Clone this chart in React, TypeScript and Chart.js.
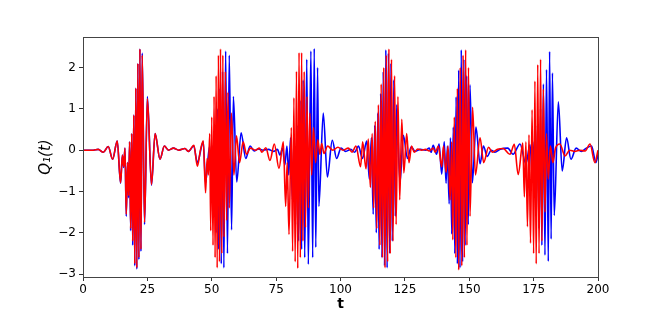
import React, { useEffect, useRef } from "react";
import { Chart, registerables } from "chart.js";

Chart.register(...registerables);

const xTicks = [0, 25, 50, 75, 100, 125, 150, 175, 200];
const yTicks = [-3, -2, -1, 0, 1, 2];

// Red series: [t, value] at turning points
const redPoints: number[][] = [
  [0, 0], [4, 0], [5.9, 0.02], [7.9, -0.05], [9.8, 0.09], [11.5, -0.22], [13.3, 0.22], [14.6, -0.79],
  [15.3, -0.12], [15.8, -0.4], [16.3, 0.05], [16.8, -1.55], [17.3, -0.3], [17.7, -1.1], [18.1, 0.2],
  [18.5, -1.9], [18.9, 0.4], [19.3, -2.2], [19.7, 0.85], [20.1, -2.75], [20.5, 1.5], [20.9, -2.85],
  [21.3, 2.1], [21.7, -2.6], [22.1, 2.45], [22.5, -2.4], [23.0, 2.3], [23.9, -1.75], [25.0, 1.25],
  [26.6, -0.83], [28.0, 0.4], [29.9, -0.22], [31.6, 0.1], [33.2, 0.0], [35.1, 0.05], [37.2, 0.0],
  [39.6, 0.04], [40.9, -0.03], [43.1, 0.12], [44.4, -0.39], [45.6, 0.0], [46.7, 0.23], [47.6, -1.03],
  [48.2, -0.2], [48.7, -0.6], [49.2, 0.4], [49.6, -1.95], [50.0, 0.8], [50.5, -2.3], [50.9, 1.3],
  [51.3, -2.6], [51.7, 1.8], [52.1, -2.85], [52.6, 2.3], [53.0, -2.7], [53.4, 2.45], [53.9, -2.5],
  [54.3, 2.3], [54.8, -2.1], [55.3, 1.9], [55.8, -1.7], [56.3, 1.4], [56.8, -1.4], [57.6, 0.9],
  [58.6, -0.6], [59.6, 0.35], [60.8, -0.3], [62.2, 0.2], [63.5, -0.1], [65.0, 0.05], [67.0, 0.0],
  [68.5, 0.05], [69.5, -0.05], [71.0, 0.06], [72.6, -0.25], [74.3, 0.15], [76.1, -0.44], [77.8, 0.2],
  [78.7, -1.36], [79.3, -0.3], [80.0, -2.04], [80.9, 0.55], [81.4, -2.45], [81.9, 1.27], [82.4, -2.7],
  [82.9, 1.91], [83.4, -2.86], [83.9, 2.36], [84.4, -2.6], [84.9, 2.36], [85.4, -2.2], [85.9, 1.9],
  [86.4, -1.87], [87.0, 1.3], [87.5, -1.4], [88.1, 0.9], [88.8, -0.6], [89.5, 0.55], [90.3, -0.3],
  [91.2, 0.25], [92.0, -0.1], [92.7, 0.16], [93.6, -0.08], [95.0, 0.1], [97.0, 0.0], [99.0, 0.07],
  [101.0, 0.0], [103.0, 0.05], [104.5, -0.05], [106.0, 0.1], [107.8, -0.4], [108.6, 0.2], [109.9, -0.45],
  [110.8, 0.27], [111.6, -0.9], [112.3, 0.4], [112.9, -1.4], [113.5, 0.7], [114.1, -1.9], [114.7, 1.1],
  [115.3, -2.3], [115.8, 1.6], [116.3, -2.6], [116.8, 2.0], [117.3, -2.85], [117.8, 2.3], [118.3, -2.7],
  [118.8, 2.45], [119.3, -2.5], [119.8, 2.2], [120.4, -2.2], [121.0, 1.8], [121.6, -1.8], [122.3, 1.3],
  [123.0, -1.2], [123.8, 0.75], [124.6, -0.55], [125.7, 0.4], [126.6, -0.3], [127.6, 0.1], [128.6, -0.05],
  [130.0, 0.03], [131.5, 0.0], [133.0, 0.02], [134.5, -0.02], [136.0, 0.05], [136.8, -0.05], [138.0, 0.1],
  [139.3, -0.4], [140.0, 0.1], [141.0, -0.54], [141.8, 0.1], [142.6, -1.2], [143.2, 0.2], [143.6, -2.17],
  [144.2, 0.8], [144.8, -2.6], [145.4, 1.5], [145.9, -2.9], [146.5, 2.0], [147.1, -2.8], [147.6, 2.3],
  [148.1, -2.6], [148.6, 2.43], [149.1, -2.3], [149.7, 2.0], [150.3, -1.6], [151.3, 1.04], [152.4, -0.6],
  [154.2, 0.3], [155.6, -0.3], [157.5, 0.07], [159.0, -0.05], [161.0, 0.02], [163.2, 0.04], [165.8, -0.1],
  [167.5, 0.14], [169.0, -0.59], [170.8, 0.17], [171.4, -1.13], [172.0, 0.2], [172.6, -1.85], [173.2, 0.37],
  [173.8, -2.25], [174.4, 0.98], [175.0, -2.5], [175.5, 1.67], [176.0, -2.75], [176.6, 2.07], [177.1, -2.5],
  [177.7, 2.2], [178.2, -2.2], [178.8, 1.48], [179.4, -1.5], [180.0, 0.4], [180.7, -0.7], [181.5, 0.1],
  [182.5, -0.3], [183.5, 0.05], [185.2, 0.15], [187.2, -0.14], [189.0, 0.0], [191.0, -0.03], [193.0, 0.0],
  [195.0, -0.02], [196.9, 0.15], [198.8, -0.3], [200, 0.0],
];

// Blue series: [t, value] at turning points
const bluePoints: number[][] = [
  [0, 0], [4, 0], [5.9, 0.02], [7.9, -0.05], [9.8, 0.09], [11.5, -0.22], [13.3, 0.22], [14.6, -0.8],
  [15.3, -0.12], [15.8, -0.42], [16.3, 0.05], [16.8, -1.6], [17.3, -0.3], [17.7, -1.15], [18.1, 0.2],
  [18.5, -1.95], [18.9, 0.4], [19.3, -2.3], [19.7, 0.85], [20.1, -2.8], [20.5, 1.5], [20.9, -2.88],
  [21.3, 2.1], [21.7, -2.65], [22.1, 2.45], [22.5, -2.45], [23.0, 2.35], [23.9, -1.8], [25.0, 1.3],
  [26.6, -0.85], [28.0, 0.4], [29.9, -0.22], [31.6, 0.1], [33.2, 0.0], [35.1, 0.05], [37.2, 0.0],
  [39.6, 0.04], [40.9, -0.03], [43.0, 0.1], [44.4, -0.3], [46.7, 0.2], [47.6, -0.8], [48.4, -0.3],
  [49.2, 0.1], [49.7, -0.6], [50.2, 0.1], [50.7, -1.5], [51.2, 0.5], [51.7, -2.0], [52.2, 1.0],
  [52.7, -2.4], [53.2, 1.5], [53.7, -2.75], [54.2, 1.9], [54.7, -2.85], [55.4, 2.4], [56.1, -2.5],
  [56.8, 2.3], [57.7, -1.93], [58.4, 1.3], [59.7, -0.77], [61.4, 0.42], [63.2, -0.2], [64.9, 0.1],
  [66.5, -0.02], [68.0, 0.03], [70.0, 0.0], [72.0, 0.02], [74.0, -0.03], [75.5, 0.02], [76.5, -0.12],
  [77.5, 0.05], [78.4, -0.36], [79.2, 0.1], [79.9, -0.6], [80.6, 0.3], [81.3, -1.2], [81.9, 0.2],
  [82.5, -1.8], [83.1, 0.6], [83.7, -2.2], [84.3, 1.2], [84.9, -2.4], [85.5, 1.7], [86.1, -2.6],
  [86.9, 2.2], [87.5, -2.76], [88.5, 2.4], [89.2, -2.6], [89.8, 2.46], [90.4, -2.35], [91.1, 2.0],
  [91.6, -1.36], [93.3, 0.9], [94.9, -0.65], [96.8, 0.24], [98.5, -0.2], [100.2, 0.05], [102.0, -0.03],
  [104.0, 0.02], [105.5, -0.05], [107.0, 0.1], [108.5, -0.2], [110.2, 0.22], [111.2, -0.7], [112.0, 0.3],
  [112.7, -1.55], [113.3, 0.6], [113.9, -2.0], [114.5, 0.9], [115.0, -2.4], [115.6, 1.37], [116.1, -2.6],
  [116.6, 1.9], [117.1, -2.8], [117.6, 2.43], [118.1, -2.85], [118.6, 2.35], [119.1, -2.5], [119.6, 2.1],
  [120.1, -2.2], [120.7, 1.7], [121.3, -1.6], [121.8, 1.1], [123.1, -0.8], [124.4, 0.36], [126.0, -0.2],
  [127.5, 0.08], [129.0, -0.03], [131.0, 0.02], [133.0, 0.0], [134.5, 0.05], [135.2, -0.05], [136.0, 0.12],
  [137.3, -0.1], [138.3, 0.15], [139.3, -0.58], [140.3, 0.2], [141.0, -0.8], [141.5, 0.1], [142.2, -1.3],
  [142.7, 0.3], [143.2, -2.03], [143.8, 0.56], [144.4, -2.5], [144.9, 1.29], [145.4, -2.75], [145.9, 1.94],
  [146.4, -2.85], [146.9, 2.43], [147.4, -2.7], [147.9, 2.2], [148.4, -2.3], [149.0, 1.8], [149.6, -1.8],
  [150.3, 1.58], [151.2, -0.79], [152.6, 0.56], [154.2, -0.33], [155.5, 0.1], [157.0, -0.15], [158.5, 0.0],
  [160.0, -0.05], [162.0, 0.02], [165.0, 0.05], [167.0, -0.1], [169.7, 0.15], [172.0, -0.33], [173.6, 0.13],
  [174.5, -0.6], [175.2, 0.2], [175.9, -1.4], [176.5, 0.6], [177.1, -1.9], [177.7, 1.0], [178.2, -2.3],
  [178.8, 1.6], [179.4, -2.54], [180.0, 1.95], [180.7, -2.69], [181.2, 2.39], [181.8, -2.15], [182.3, 1.87],
  [183.0, -1.58], [184.6, 1.17], [186.1, -0.5], [187.8, 0.3], [189.5, -0.22], [191.5, 0.05], [193.5, -0.03],
  [195.5, 0.05], [197.5, 0.1], [199.2, -0.3], [200, -0.1],
];

const toXY = (pts: number[][]) => pts.map(([x, y]) => ({ x, y }));

const framePlugin = {
  id: "frame",
  afterDraw(chart: any) {
    const { ctx, chartArea } = chart;
    ctx.save();
    ctx.strokeStyle = "#444";
    ctx.lineWidth = 1;
    ctx.strokeRect(
      Math.round(chartArea.left) + 0.5,
      Math.round(chartArea.top) + 0.5,
      Math.round(chartArea.right - chartArea.left),
      Math.round(chartArea.bottom - chartArea.top)
    );
    ctx.restore();
  },
};

export default function App() {
  const ref = useRef<HTMLCanvasElement | null>(null);
  useEffect(() => {
    document.body.style.margin = "0";
    const canvas = ref.current!;
    const chart = new Chart(canvas, {
      type: "line",
      data: {
        datasets: [
          {
            label: "red",
            data: toXY(redPoints),
            borderColor: "#ff0000",
            borderWidth: 1.6,
            pointRadius: 0,
            fill: false,
            cubicInterpolationMode: "monotone",
          },
          {
            label: "blue",
            data: toXY(bluePoints),
            borderColor: "#0000ff",
            borderWidth: 1.6,
            pointRadius: 0,
            fill: false,
            cubicInterpolationMode: "monotone",
          },
        ],
      },
      options: {
        animation: false,
        responsive: false,
        maintainAspectRatio: false,
        layout: { padding: { left: 0, top: 37, right: 66, bottom: 0 } },
        plugins: { legend: { display: false }, tooltip: { enabled: false } },
        scales: {
          x: {
            type: "linear",
            min: 0,
            max: 200,
            afterFit: (s: any) => { s.height = 36; },
            afterBuildTicks: (s: any) => { s.ticks = xTicks.map((v) => ({ value: v })); },
            grid: { display: true, drawOnChartArea: false, drawTicks: true, tickLength: 4, tickColor: "#333" },
            border: { display: false },
            ticks: { color: "#000", font: { family: "DejaVu Sans", size: 12 }, padding: 2, maxRotation: 0 },
            title: {
              display: true,
              text: "t",
              color: "#000",
              font: { family: "DejaVu Sans", size: 14, weight: "bold" },
              padding: { top: 0, bottom: 0 },
            },
          },
          y: {
            type: "linear",
            min: -3.07,
            max: 2.74,
            afterFit: (s: any) => { s.width = 83; },
            afterBuildTicks: (s: any) => { s.ticks = yTicks.map((v) => ({ value: v })); },
            grid: { display: true, drawOnChartArea: false, drawTicks: true, tickLength: 4, tickColor: "#333" },
            border: { display: false },
            ticks: {
              color: "#000",
              font: { family: "DejaVu Sans", size: 12 },
              padding: 3,
              callback: (v: any) => (Number(v) < 0 ? "\u2212" + Math.abs(Number(v)) : String(v)),
            },
            title: {
              display: true,
              text: "Q\u2081(t)",
              color: "#000",
              font: { family: "DejaVu Sans", size: 15, style: "italic" },
              padding: { top: 37, bottom: 0 },
            },
          },
        },
      },
      plugins: [framePlugin],
    });
    return () => chart.destroy();
  }, []);
  return <canvas ref={ref} width={664} height={313} style={{ display: "block" }} />;
}
